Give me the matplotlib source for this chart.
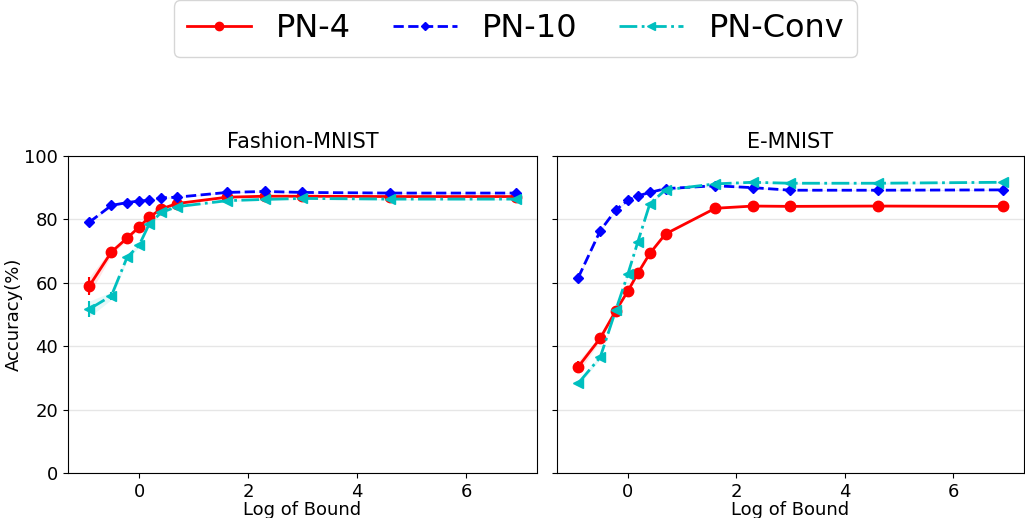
import numpy as np
import matplotlib
matplotlib.use("Agg")
import matplotlib.pyplot as plt

# bounds: 0.4, 0.6, 0.8, 1, 1.2, 1.5, 2, 5, 10, 20, 100, 1000
bounds = [0.4, 0.6, 0.8, 1.0, 1.2, 1.5, 2, 5, 10, 20, 100, 1000]
log_bound = np.log(bounds)

datasets = ["Fashion-MNIST", "E-MNIST"]
models = ["PN-4", "PN-10", "PN-Conv"]

fashion_pn4 = [59.0, 69.7, 74.1, 77.6, 80.7, 83.3, 85.0, 87.0, 87.3, 87.3, 87.2, 87.2]
fashion_pn10 = [79.1, 84.4, 85.3, 85.8, 86.0, 86.8, 87.0, 88.5, 88.8, 88.5, 88.3, 88.3]
fashion_conv = [51.7, 55.9, 68.0, 71.9, 78.5, 82.2, 84.0, 85.9, 86.3, 86.6, 86.4, 86.4]

emnist_pn4 = [33.5, 42.5, 51.2, 57.4, 63.0, 69.3, 75.4, 83.5, 84.2, 84.1, 84.2, 84.1]
emnist_pn10 = [61.6, 76.4, 83.0, 86.0, 87.4, 88.5, 89.7, 90.6, 90.0, 89.2, 89.2, 89.3]
emnist_conv = [28.3, 36.5, 51.4, 62.8, 72.9, 85.0, 89.3, 91.2, 91.7, 91.4, 91.4, 91.7]

fashion_pn4_std = [2.8, 1.0, 0.6, 0.5, 0.5, 0.4, 0.3, 0.2, 0.2, 0.2, 0.2, 0.2]
fashion_pn10_std = [0.4, 0.3, 0.3, 0.2, 0.2, 0.2, 0.2, 0.2, 0.2, 0.2, 0.2, 0.2]
fashion_conv_std = [2.5, 1.2, 0.8, 0.6, 0.5, 0.4, 0.3, 0.3, 0.3, 0.3, 0.3, 0.3]
emnist_pn4_std = [1.8, 0.8, 0.6, 0.5, 0.4, 0.3, 0.3, 0.2, 0.2, 0.2, 0.2, 0.2]
emnist_pn10_std = [0.4, 0.3, 0.3, 0.2, 0.2, 0.2, 0.2, 0.2, 0.2, 0.2, 0.2, 0.2]
emnist_conv_std = [0.8, 0.6, 0.5, 0.5, 0.5, 0.4, 0.3, 0.3, 0.3, 0.3, 0.3, 0.3]

values = {
    "Fashion-MNIST": [fashion_pn4, fashion_pn10, fashion_conv],
    "E-MNIST": [emnist_pn4, emnist_pn10, emnist_conv],
}
stds = {
    "Fashion-MNIST": [fashion_pn4_std, fashion_pn10_std, fashion_conv_std],
    "E-MNIST": [emnist_pn4_std, emnist_pn10_std, emnist_conv_std],
}

styles = [
    dict(color="r", linestyle="-", marker="o", markersize=7.5),
    dict(color="b", linestyle="--", marker="D", markersize=5.5),
    dict(color="c", linestyle="-.", marker="<", markersize=7.5),
]

fig = plt.figure(figsize=(10.25, 5.18), dpi=100)
ax1 = fig.add_axes([0.0663, 0.0869, 0.4576, 0.612])
ax2 = fig.add_axes([0.5434, 0.0869, 0.4556, 0.612], sharey=ax1)
axes = [ax1, ax2]

handles = []
for ax, name in zip(axes, datasets):
    for vals, sd, st, label in zip(values[name], stds[name], styles, models):
        vals = np.array(vals)
        sd = np.array(sd)
        line, = ax.plot(log_bound, vals, linewidth=2, label=label, **st)
        ax.fill_between(log_bound, vals - sd, vals + sd, color=st["color"], alpha=0.1, linewidth=0)
        ax.errorbar(log_bound, vals, yerr=sd, fmt="none", ecolor=st["color"], elinewidth=1.5)
        if name == datasets[0]:
            handles.append(line)
    ax.set_title(name, fontsize=15)
    ax.set_xlabel("Log of Bound", fontsize=13, labelpad=0)
    ax.set_ylim(0, 100)
    ax.set_yticks([0, 20, 40, 60, 80, 100])
    ax.set_xticks([0, 2, 4, 6])
    ax.tick_params(labelsize=13)
    ax.grid(axis="y", color="#e6e6e6", linewidth=1)
    ax.set_axisbelow(True)

ax1.set_ylabel("Accuracy(%)", fontsize=13, labelpad=1)
plt.setp(ax2.get_yticklabels(), visible=False)

fig.legend(handles, models, loc="upper center", bbox_to_anchor=(0.503, 1.03),
           ncol=3, fontsize=23, handlelength=2.0, columnspacing=1.3,
           handletextpad=0.8, markerscale=0.8)

fig.savefig("out.png", dpi=100)
